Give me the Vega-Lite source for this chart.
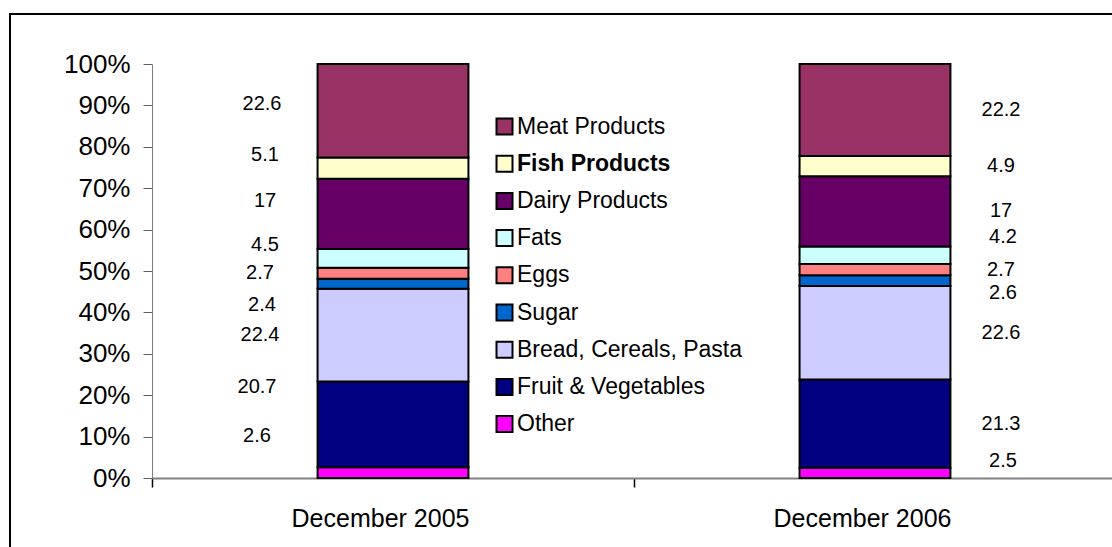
{
  "$schema": "https://vega.github.io/schema/vega-lite/v6.json",
  "autosize": "none",
  "width": 1112,
  "height": 543,
  "padding": {"left": 10, "top": 14, "right": -10, "bottom": -10},
  "background": "white",
  "config": {
    "view": {"stroke": "black", "strokeWidth": 2},
    "font": "Liberation Sans",
    "text": {"fontSize": 20, "color": "black", "baseline": "middle"}
  },
  "data": {
    "values": [
      {"period": "December 2005", "cat": "Other", "k": 1, "value": 2.6},
      {"period": "December 2005", "cat": "Fruit & Vegetables", "k": 2, "value": 20.7},
      {"period": "December 2005", "cat": "Bread, Cereals, Pasta", "k": 3, "value": 22.4},
      {"period": "December 2005", "cat": "Sugar", "k": 4, "value": 2.4},
      {"period": "December 2005", "cat": "Eggs", "k": 5, "value": 2.7},
      {"period": "December 2005", "cat": "Fats", "k": 6, "value": 4.5},
      {"period": "December 2005", "cat": "Dairy Products", "k": 7, "value": 17},
      {"period": "December 2005", "cat": "Fish Products", "k": 8, "value": 5.1},
      {"period": "December 2005", "cat": "Meat Products", "k": 9, "value": 22.6},
      {"period": "December 2006", "cat": "Other", "k": 1, "value": 2.5},
      {"period": "December 2006", "cat": "Fruit & Vegetables", "k": 2, "value": 21.3},
      {"period": "December 2006", "cat": "Bread, Cereals, Pasta", "k": 3, "value": 22.6},
      {"period": "December 2006", "cat": "Sugar", "k": 4, "value": 2.6},
      {"period": "December 2006", "cat": "Eggs", "k": 5, "value": 2.7},
      {"period": "December 2006", "cat": "Fats", "k": 6, "value": 4.2},
      {"period": "December 2006", "cat": "Dairy Products", "k": 7, "value": 17},
      {"period": "December 2006", "cat": "Fish Products", "k": 8, "value": 4.9},
      {"period": "December 2006", "cat": "Meat Products", "k": 9, "value": 22.2}
    ]
  },
  "transform": [
    {"stack": "value", "groupby": ["period"], "sort": [{"field": "k", "order": "ascending"}], "as": ["v0", "v1"]},
    {"calculate": "(datum.v0 + datum.v1) / 2", "as": "vm"}
  ],
  "encoding": {
    "x": {
      "field": "period",
      "type": "nominal",
      "scale": {"range": [142, 1106], "paddingInner": 0, "paddingOuter": 0},
      "axis": {
        "orient": "bottom",
        "offset": -79,
        "title": null,
        "labelAngle": 0,
        "labelOffset": -13,
        "tickBand": "extent",
        "tickSize": 9,
        "tickColor": "black",
        "tickWidth": 1.5,
        "domainColor": "#808080",
        "domainWidth": 2,
        "labelFontSize": 25,
        "labelPadding": 19,
        "labelColor": "black",
        "grid": false
      }
    }
  },
  "layer": [
    {
      "mark": {"type": "bar", "stroke": "black", "strokeWidth": 2, "width": {"band": 0.313}},
      "encoding": {
        "y": {
          "field": "v0",
          "type": "quantitative",
          "scale": {"domain": [0, 100], "range": [464, 50], "nice": false, "zero": false},
          "axis": {
            "orient": "left",
            "offset": -142,
            "title": null,
            "values": [0, 10, 20, 30, 40, 50, 60, 70, 80, 90, 100],
            "labelExpr": "datum.value + '%'",
            "grid": false,
            "domainColor": "#808080",
            "tickColor": "#606060",
            "tickSize": 9,
            "labelFontSize": 26,
            "labelPadding": 13,
            "labelColor": "black",
            "labelFlush": false,
            "labelOverlap": false,
            "labelBound": false
          }
        },
        "y2": {"field": "v1"},
        "color": {
          "field": "cat",
          "type": "nominal",
          "scale": {
            "domain": ["Meat Products", "Fish Products", "Dairy Products", "Fats", "Eggs", "Sugar", "Bread, Cereals, Pasta", "Fruit & Vegetables", "Other"],
            "range": ["#993366", "#FFFFCC", "#660066", "#CCFFFF", "#FF8080", "#0066CC", "#CCCCFF", "#000080", "#FF00FF"]
          },
          "legend": {
            "orient": "none",
            "legendX": 483,
            "legendY": 101,
            "title": null,
            "padding": 0,
            "symbolType": "square",
            "symbolSize": 256,
            "symbolStrokeColor": "black",
            "symbolStrokeWidth": 2,
            "labelFontSize": 23,
            "labelOffset": 1,
            "labelColor": "black",
            "labelLimit": 400,
            "rowPadding": 12.2,
            "encode": {
              "labels": {
                "update": {
                  "fontWeight": {"signal": "datum.label === 'Fish Products' ? 'bold' : 'normal'"}
                }
              }
            }
          }
        }
      }
    },
    {
      "transform": [{"filter": {"and": [{"field": "period", "equal": "December 2005"}, {"field": "cat", "oneOf": ["Meat Products"]}]}}],
      "mark": {"type": "text", "dx": -131, "dy": -7},
      "encoding": {"y": {"field": "vm", "type": "quantitative"}, "text": {"field": "value", "type": "nominal"}}
    },
    {
      "transform": [{"filter": {"and": [{"field": "period", "equal": "December 2005"}, {"field": "cat", "oneOf": ["Fish Products", "Dairy Products", "Fats"]}]}}],
      "mark": {"type": "text", "dx": -128, "dy": -13},
      "encoding": {"y": {"field": "vm", "type": "quantitative"}, "text": {"field": "value", "type": "nominal"}}
    },
    {
      "transform": [{"filter": {"and": [{"field": "period", "equal": "December 2005"}, {"field": "cat", "oneOf": ["Eggs", "Bread, Cereals, Pasta"]}]}}],
      "mark": {"type": "text", "dx": -133, "dy": 0},
      "encoding": {"y": {"field": "vm", "type": "quantitative"}, "text": {"field": "value", "type": "nominal"}}
    },
    {
      "transform": [{"filter": {"and": [{"field": "period", "equal": "December 2005"}, {"field": "cat", "oneOf": ["Sugar"]}]}}],
      "mark": {"type": "text", "dx": -131, "dy": 21},
      "encoding": {"y": {"field": "vm", "type": "quantitative"}, "text": {"field": "value", "type": "nominal"}}
    },
    {
      "transform": [{"filter": {"and": [{"field": "period", "equal": "December 2005"}, {"field": "cat", "oneOf": ["Fruit & Vegetables", "Other"]}]}}],
      "mark": {"type": "text", "dx": -136, "dy": -37},
      "encoding": {"y": {"field": "vm", "type": "quantitative"}, "text": {"field": "value", "type": "nominal"}}
    },
    {
      "transform": [{"filter": {"and": [{"field": "period", "equal": "December 2006"}, {"field": "cat", "oneOf": ["Meat Products", "Fish Products", "Dairy Products", "Eggs", "Bread, Cereals, Pasta", "Fruit & Vegetables"]}]}}],
      "mark": {"type": "text", "dx": 126, "dy": 0},
      "encoding": {"y": {"field": "vm", "type": "quantitative"}, "text": {"field": "value", "type": "nominal"}}
    },
    {
      "transform": [{"filter": {"and": [{"field": "period", "equal": "December 2006"}, {"field": "cat", "oneOf": ["Fats"]}]}}],
      "mark": {"type": "text", "dx": 128, "dy": -18},
      "encoding": {"y": {"field": "vm", "type": "quantitative"}, "text": {"field": "value", "type": "nominal"}}
    },
    {
      "transform": [{"filter": {"and": [{"field": "period", "equal": "December 2006"}, {"field": "cat", "oneOf": ["Sugar"]}]}}],
      "mark": {"type": "text", "dx": 128, "dy": 12},
      "encoding": {"y": {"field": "vm", "type": "quantitative"}, "text": {"field": "value", "type": "nominal"}}
    },
    {
      "transform": [{"filter": {"and": [{"field": "period", "equal": "December 2006"}, {"field": "cat", "oneOf": ["Other"]}]}}],
      "mark": {"type": "text", "dx": 128, "dy": -12},
      "encoding": {"y": {"field": "vm", "type": "quantitative"}, "text": {"field": "value", "type": "nominal"}}
    }
  ]
}
